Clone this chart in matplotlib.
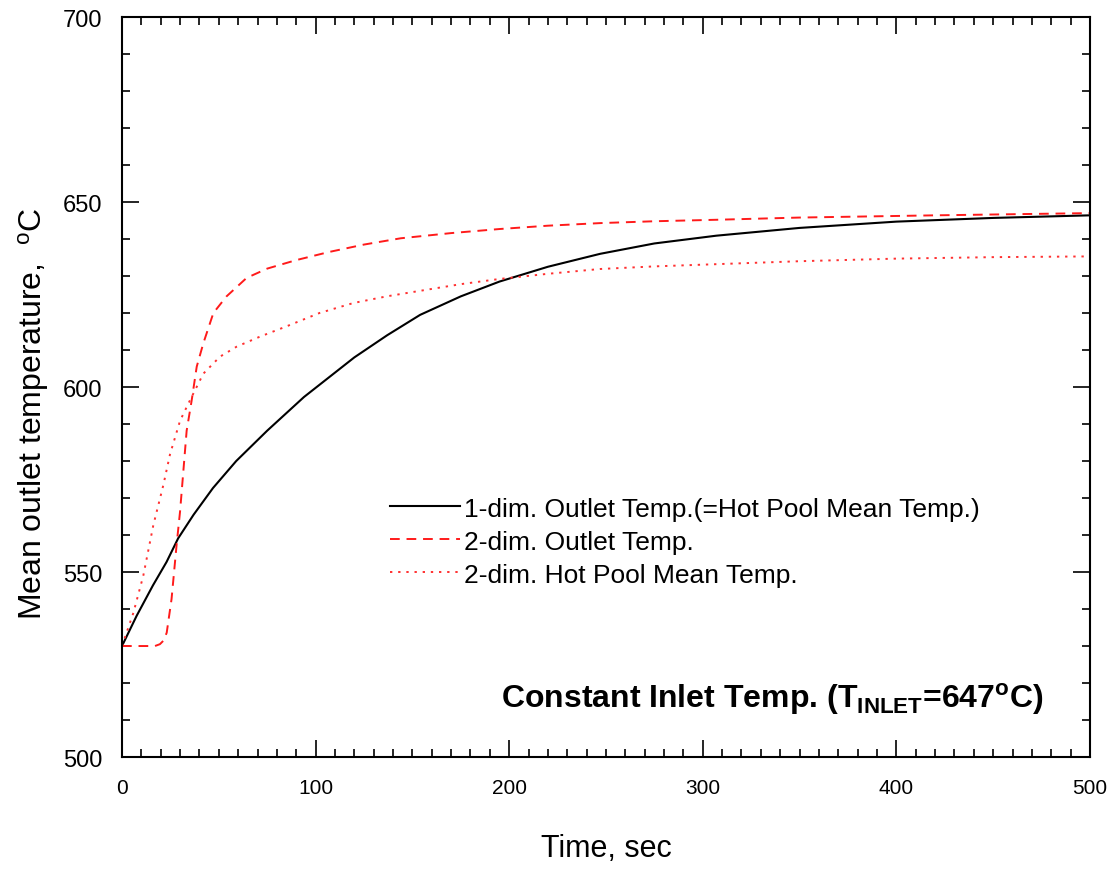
import matplotlib
matplotlib.use("Agg")
import matplotlib.pyplot as plt
from matplotlib.ticker import MultipleLocator

plt.rcParams['font.family'] = ['Liberation Sans', 'DejaVu Sans']
plt.rcParams['mathtext.fontset'] = 'custom'
plt.rcParams['mathtext.rm'] = 'Liberation Sans'
plt.rcParams['mathtext.bf'] = 'Liberation Sans:bold'

# 1-dim outlet temperature (= hot pool mean temperature)
t_1d = [0, 7.6, 16, 23, 29, 37, 47, 59, 75, 94, 120, 137, 154, 175, 195, 220, 247, 275, 307,
        350, 400, 450, 500]
T_1d = [530, 538.2, 546.4, 552.7, 559.1, 565.5, 572.7, 580, 588.2, 597.3, 608, 614, 619.5,
        624.5, 628.5, 632.5, 636, 638.8, 640.9, 643, 644.7, 645.7, 646.4]

# 2-dim outlet temperature
t_2d_out = [0, 17, 19.6, 21.5, 23.1, 25.6, 28.2, 30, 31.7, 33.4, 36, 38.6, 42, 47.2, 54, 64.4,
            75, 90, 107, 125, 144, 170, 195, 220, 247, 275, 307, 350, 420, 500]
T_2d_out = [530, 530, 530.5, 531.5, 533.6, 542.7, 557.3, 566.4, 577.3, 588.2, 596.4, 605.5,
            611.8, 620, 624.5, 629.5, 632, 634.3, 636.5, 638.5, 640.2, 641.6, 642.7, 643.6,
            644.3, 644.8, 645.2, 645.8, 646.4, 647]

# 2-dim hot pool mean temperature
t_2d_pool = [0, 5.9, 11, 16.2, 21.4, 24.8, 30, 35.1, 42, 50.6, 59.2, 71.2, 85, 102, 119.5,
             136.7, 154, 175, 195, 220, 247, 275, 307, 350, 400, 450, 500]
T_2d_pool = [530, 539, 549, 562.7, 573.6, 581.8, 590.9, 596.4, 603.6, 608.2, 610.9, 613.6,
             616.4, 620, 622.7, 624.5, 626, 627.8, 629.2, 630.6, 631.9, 632.6, 633.2, 634,
             634.7, 635.1, 635.3]

labels = ['1-dim. Outlet Temp.(=Hot Pool Mean Temp.)',
          '2-dim. Outlet Temp.',
          '2-dim. Hot Pool Mean Temp.']

fig = plt.figure(figsize=(11.07, 8.70), dpi=100)
ax = fig.add_axes([0.1102, 0.1287, 0.8744, 0.8506])

ax.plot(t_1d, T_1d, color='black', lw=1.5, label=labels[0])
ax.plot(t_2d_out, T_2d_out, color='#ff1a1a', lw=1.4, linestyle=(0, (5, 3.5)), label=labels[1])
ax.plot(t_2d_pool, T_2d_pool, color='#ff3030', lw=1.4, linestyle=(0, (1.2, 3)), label=labels[2])

ax.set_xlim(0, 500)
ax.set_ylim(500, 700)
ax.xaxis.set_major_locator(MultipleLocator(100))
ax.xaxis.set_minor_locator(MultipleLocator(10))
ax.yaxis.set_major_locator(MultipleLocator(50))
ax.yaxis.set_minor_locator(MultipleLocator(10))
ax.tick_params(which='both', direction='in', top=True, right=True, width=1.2)
ax.tick_params(which='major', length=12)
ax.tick_params(axis='y', which='major', pad=14, labelsize=17)
ax.tick_params(axis='x', which='major', pad=15, labelsize=15)
ax.tick_params(which='minor', length=6)
for s in ax.spines.values():
    s.set_linewidth(1.5)

ax.set_xlabel('Time, sec', fontsize=22)
ax.xaxis.set_label_coords(0.5, -0.102)
ax.set_ylabel(r'Mean outlet temperature,  $\mathregular{^oC}$', fontsize=23)
ax.yaxis.set_label_coords(-0.073, 0.465)

leg = ax.legend(loc='upper left', bbox_to_anchor=(0.252, 0.384), frameon=False, fontsize=19,
                handlelength=2.65, handletextpad=0.15, labelspacing=0.34)

ax.text(476, 516, r'Constant Inlet Temp. (T$_{\mathregular{INLET}}$=647$^{\mathregular{o}}$C)',
        ha='right', va='center', fontsize=23, fontweight='bold')

fig.savefig('out.png', dpi=100)
